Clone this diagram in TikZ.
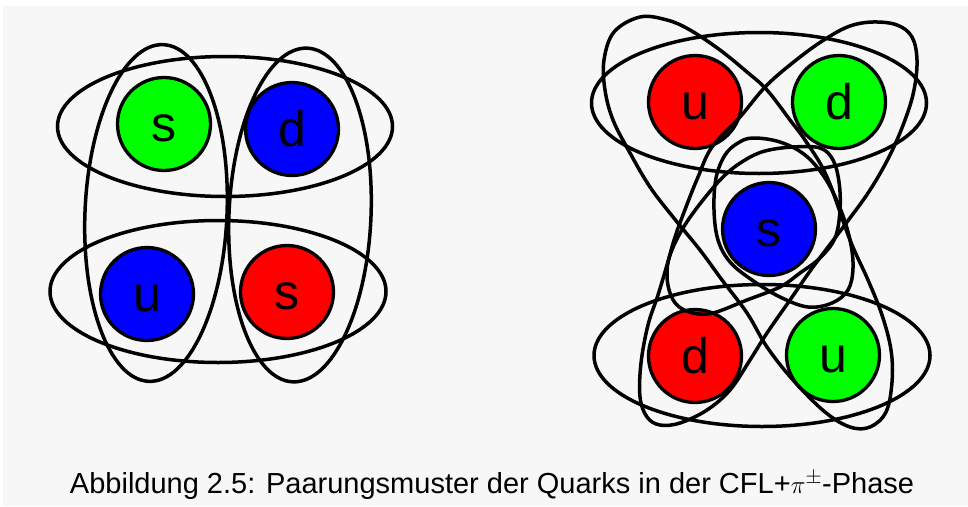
\documentclass[tikz,border=0pt]{standalone}
\usepackage{fontspec}
\setmainfont{Liberation Sans}
\definecolor{bggray}{HTML}{F7F7F7}
\definecolor{qred}{HTML}{FF0000}
\definecolor{qgreen}{HTML}{00FF00}
\definecolor{qblue}{HTML}{0000FF}
\begin{document}
\begin{tikzpicture}[x=1pt,y=-1pt,
  quark/.style={circle, draw=black, line width=3.3pt, minimum size=93pt, inner sep=0pt,
                text height=34pt, text depth=0pt,
                font=\fontsize{50}{50}\selectfont},
  pairloop/.style={draw=black, line width=3.5pt}]
\useasboundingbox (0,0) rectangle (968,506);
\fill[bggray] (3,6) rectangle (968,506);

% ---------- left group ----------
\node[quark, fill=qgreen] (ls) at (164,124) {s};
\node[quark, fill=qblue]  (ld) at (292,129) {d};
\node[quark, fill=qblue]  (lu) at (147,294) {u};
\node[quark, fill=qred]   (lsr) at (287,292) {s};

\draw[pairloop] (225,126.5) ellipse [x radius=167.5, y radius=70];
\draw[pairloop] (218,291.5) ellipse [x radius=168, y radius=71];
\draw[pairloop, rotate around={-2.5:(156,213)}] (156,213) ellipse [x radius=71, y radius=168.5];
\draw[pairloop, rotate around={-2.5:(300,215)}] (300,215) ellipse [x radius=71, y radius=167];

% ---------- right group ----------
\node[quark, fill=qred]   (ru) at (695,102) {u};
\node[quark, fill=qgreen] (rd) at (839,102) {d};
\node[quark, fill=qblue]  (rs) at (769,229) {s};
\node[quark, fill=qred]   (rdr) at (695,356) {d};
\node[quark, fill=qgreen] (rug) at (833,355) {u};

\draw[pairloop] (759,103) ellipse [x radius=167.5, y radius=70.5];
\draw[pairloop] (762,355.5) ellipse [x radius=168, y radius=71];

% long loop: u (top left) -- u (bottom right)
\draw[pairloop] plot[smooth cycle, tension=0.6] coordinates {
 (640,17) (667,20) (690,30) (720,50) (747,72) (767,90) (790,120) (807,143)
 (827,177) (850,240) (868,280) (882,315) (891,350) (892,382) (886,412) (870,427)
 (850,427) (825,412) (793,380) (767,347) (747,313) (722,280) (700,250) (673,217)
 (650,187) (630,153) (613,120) (605,90) (604,60) (614,32)};

% long loop: d (top right) -- d (bottom left)
\draw[pairloop] plot[smooth cycle, tension=0.6] coordinates {
 (873,22) (897,25) (912,37) (917,60) (914,90) (905,120) (890,155) (870,190)
 (847,222) (813,267) (790,300) (767,333) (750,360) (730,390) (707,410) (680,423)
 (660,425) (647,417) (640,397) (641,363) (648,325) (658,295) (667,265) (675,237)
 (686,207) (698,177) (712,147) (740,117) (767,85) (800,57) (827,38) (850,26)};

% small loop around s, towards bottom right
\draw[pairloop] plot[smooth cycle, tension=0.6] coordinates {
 (753,138) (780,142) (805,155) (825,178) (840,208) (850,240) (853,268) (848,290)
 (832,303) (808,307) (780,297) (752,280) (730,262) (718,240) (714,210) (716,178)
 (725,155) (738,143)};

% small loop around s, towards bottom left
\draw[pairloop] plot[smooth cycle, tension=0.6] coordinates {
 (793,147) (820,148) (833,160) (839,182) (840,210) (835,238) (820,258) (800,273)
 (780,287) (747,300) (713,313) (693,313) (678,306) (670,293) (667,275) (670,255)
 (683,228) (703,200) (725,175) (745,160) (765,151)};

% ---------- caption ----------
\node[anchor=base, inner sep=0pt, font=\fontsize{29}{29}\selectfont] (cap) at (492,493)
  {Abbildung 2.5: Paarungsmuster der Quarks in der CFL+$\pi^{\pm}$-Phase};
\end{tikzpicture}
\end{document}
